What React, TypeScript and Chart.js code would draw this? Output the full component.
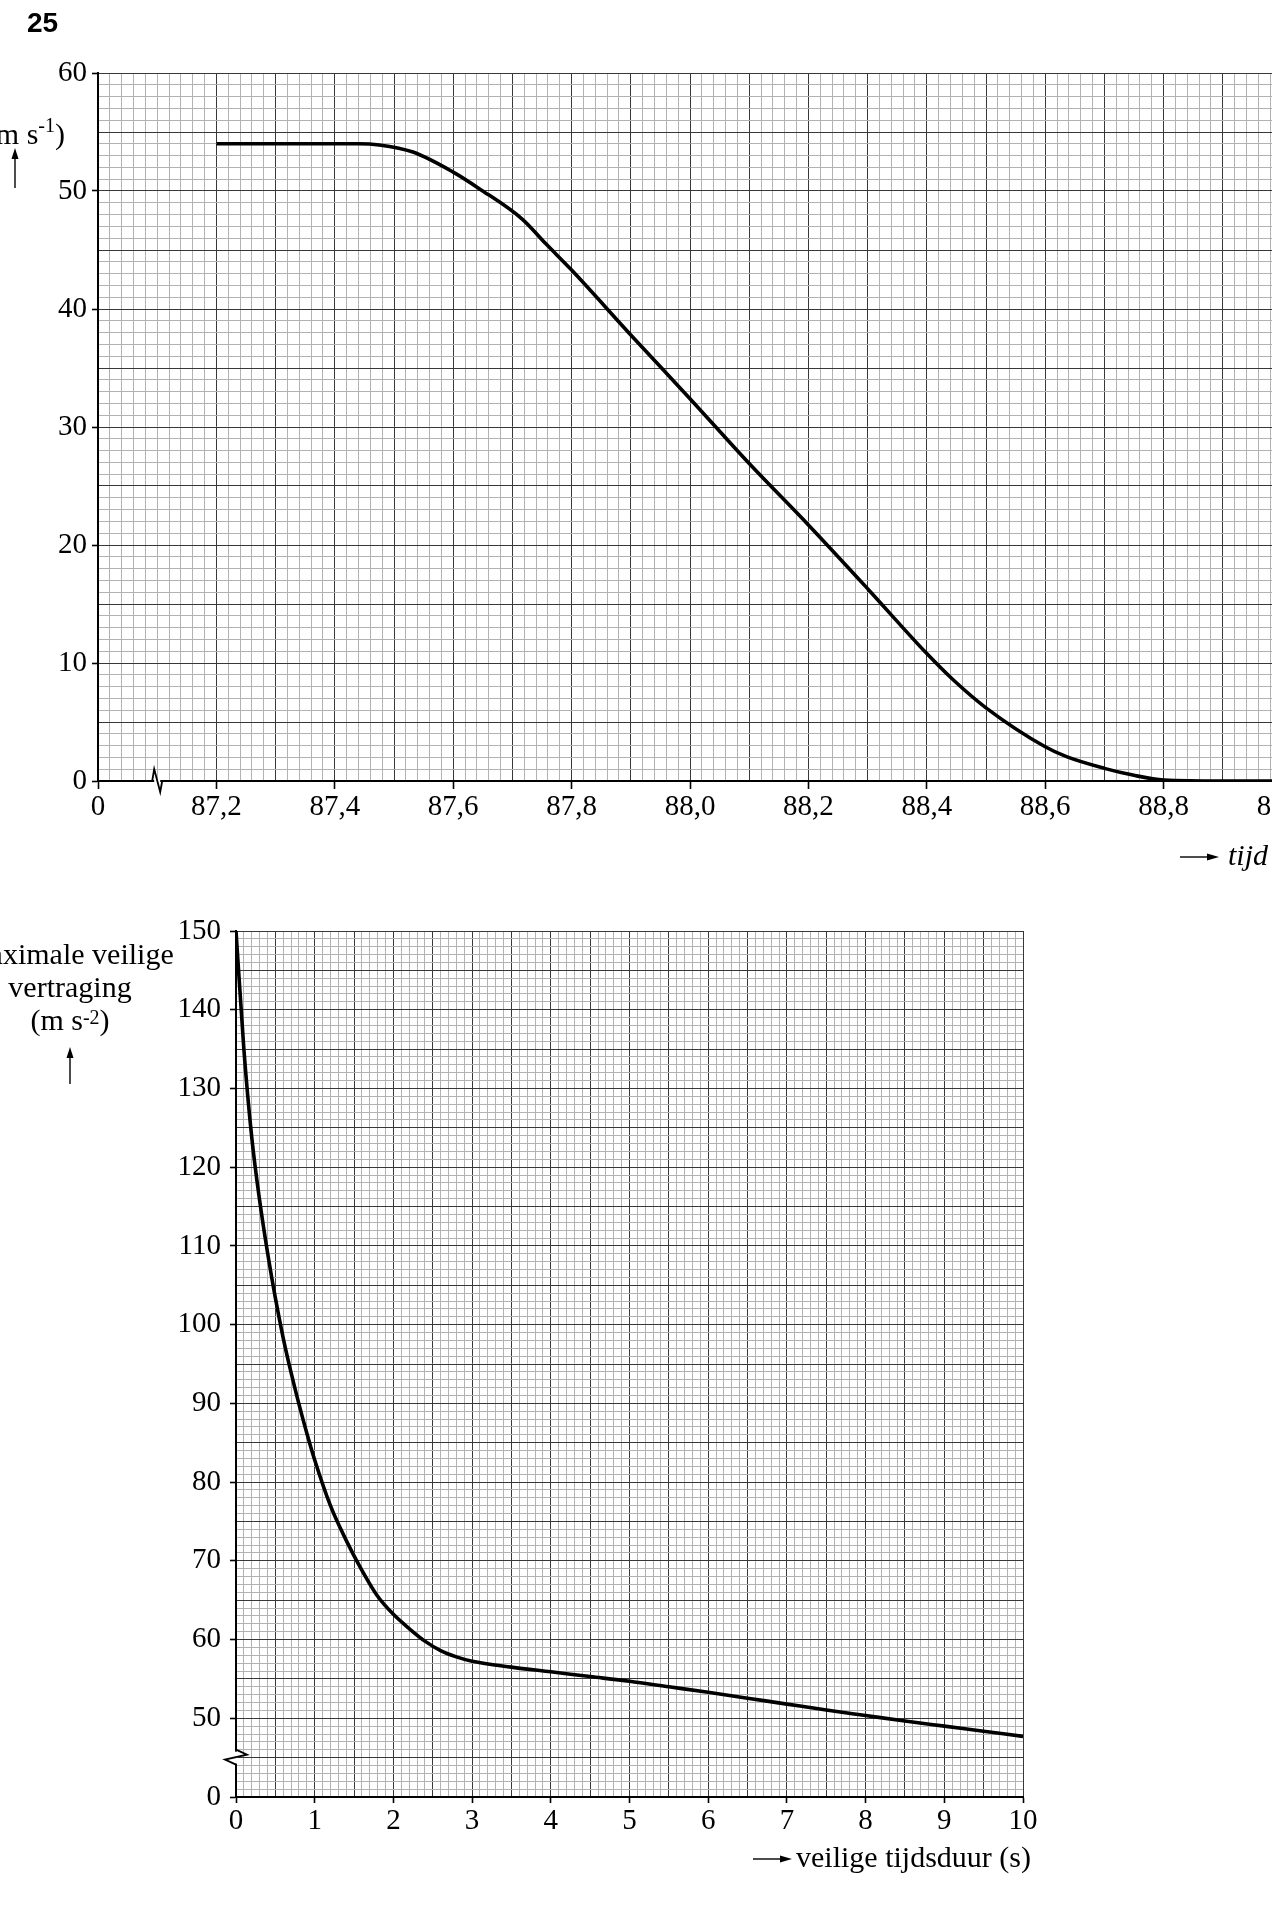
import React, { useEffect, useRef } from 'react';
import { Chart, registerables } from 'chart.js';

Chart.register(...registerables);

// ---------------- Top chart: speed (m s-1) against time ----------------
const speedTimes = [
  87.2, 87.3, 87.4, 87.44, 87.475, 87.532, 87.6, 87.644, 87.717, 87.757, 87.8,
  87.9, 88.0, 88.1, 88.2, 88.3, 88.4, 88.444, 88.5,
  88.6, 88.636, 88.7, 88.748, 88.8, 88.9, 89.0,
];
const speedValues = [
  54, 54, 54, 54, 53.9, 53.3, 51.6, 50.2, 47.6, 45.5, 43.3,
  37.8, 32.4, 26.9, 21.7, 16.3, 10.8, 8.6, 6.2,
  2.9, 2.06, 1.07, 0.5, 0.08, 0, 0,
];
const speedXTickValues = [87.0, 87.2, 87.4, 87.6, 87.8, 88.0, 88.2, 88.4, 88.6, 88.8, 89.0];
const speedXTickLabels = ['0', '87,2', '87,4', '87,6', '87,8', '88,0', '88,2', '88,4', '88,6', '88,8', '89,0'];
const speedYTickValues = [0, 10, 20, 30, 40, 50, 60];
const speedYTickLabels = ['0', '10', '20', '30', '40', '50', '60'];

// ---------------- Bottom chart: max safe deceleration against duration ----------------
const durationValues = [
  0, 0.1, 0.2, 0.3, 0.4, 0.5, 0.6, 0.7, 0.8, 0.9, 1.0, 1.2, 1.4, 1.6, 1.8, 2.0,
  2.2, 2.4, 2.6, 2.8, 3.0, 3.5, 4.0, 4.5, 5.0, 5.5, 6.0, 6.5, 7.0, 7.5, 8.0,
  8.5, 9.0, 9.5, 10.0,
];
const decelValues = [
  150, 135, 123.8, 115.8, 109.2, 103.4, 98.3, 93.9, 89.9, 86.2, 82.8, 77.0, 72.6, 68.8, 65.5, 63.2,
  61.4, 59.8, 58.6, 57.8, 57.25, 56.5, 55.9, 55.3, 54.7, 54.0, 53.3, 52.55, 51.8, 51.05, 50.35,
  49.65, 49.0, 48.35, 47.7,
];
const durationTickValues = [0, 1, 2, 3, 4, 5, 6, 7, 8, 9, 10];
const durationTickLabels = ['0', '1', '2', '3', '4', '5', '6', '7', '8', '9', '10'];
const decelTickValues = [40, 50, 60, 70, 80, 90, 100, 110, 120, 130, 140, 150];
const decelTickLabels = ['0', '50', '60', '70', '80', '90', '100', '110', '120', '130', '140', '150'];

// ---------------- styling ----------------
const SERIF = "'Liberation Serif', 'Times New Roman', serif";
const MINOR = '#b2b2b2';
const MAJOR = '#383838';
const TICK_FONT = { family: SERIF, size: 29 };

function minorTicks(min: number, max: number, step: number) {
  const n = Math.round((max - min) / step);
  const out: { value: number }[] = [];
  for (let i = 0; i <= n; i++) out.push({ value: +(min + i * step).toFixed(4) });
  return out;
}
function labelFor(values: number[], labels: string[], v: number) {
  const i = values.findIndex((t) => Math.abs(t - v) < 1e-6);
  return i >= 0 ? labels[i] : '';
}
function isMultiple(v: number, base: number, step: number) {
  const k = (v - base) / step;
  return Math.abs(k - Math.round(k)) < 1e-6;
}

function makeScale(opts: {
  min: number; max: number; minorStep: number; majorStep: number; base: number;
  tickValues: number[]; tickLabels: string[]; size: number; isX: boolean;
  tickLength: number; padding: number; greyMajor?: number[];
}) {
  const { min, max, minorStep, majorStep, base, tickValues, tickLabels, size, isX, tickLength, padding, greyMajor = [] } = opts;
  return {
    type: 'linear',
    min,
    max,
    afterBuildTicks: (s: any) => { s.ticks = minorTicks(min, max, minorStep); },
    afterFit: (s: any) => { if (isX) s.height = size; else s.width = size; },
    ticks: {
      autoSkip: false,
      maxRotation: 0,
      minRotation: 0,
      padding,
      color: '#000',
      font: TICK_FONT,
      callback: (v: number) => labelFor(tickValues, tickLabels, v),
    },
    grid: {
      lineWidth: 1,
      tickLength,
      tickWidth: 1.6,
      color: (ctx: any) => {
        const v = ctx.tick ? ctx.tick.value : null;
        if (v == null) return MINOR;
        if (greyMajor.some((g) => Math.abs(g - v) < 1e-6)) return MINOR;
        return isMultiple(v, base, majorStep) ? MAJOR : MINOR;
      },
      tickColor: (ctx: any) => {
        const v = ctx.tick ? ctx.tick.value : null;
        if (v == null) return 'rgba(0,0,0,0)';
        return labelFor(tickValues, tickLabels, v) !== '' ? '#000' : 'rgba(0,0,0,0)';
      },
    },
    border: { color: '#000', width: 2 },
  };
}

const topBreakPlugin = {
  id: 'topBreak',
  afterDraw(chart: any) {
    const ctx = chart.ctx;
    const bx = chart.scales.x.getPixelForValue(87.1);
    const y0 = chart.scales.y.getPixelForValue(0);
    ctx.save();
    ctx.strokeStyle = '#fff';
    ctx.lineWidth = 4;
    ctx.beginPath();
    ctx.moveTo(bx - 3, y0);
    ctx.lineTo(bx + 3, y0);
    ctx.stroke();
    ctx.strokeStyle = '#000';
    ctx.lineWidth = 1.8;
    ctx.lineJoin = 'miter';
    ctx.beginPath();
    ctx.moveTo(bx - 5, y0);
    ctx.lineTo(bx - 3, y0 - 12);
    ctx.lineTo(bx + 3, y0 + 11);
    ctx.lineTo(bx + 5, y0);
    ctx.stroke();
    ctx.restore();
  },
};

const bottomBreakPlugin = {
  id: 'bottomBreak',
  afterDraw(chart: any) {
    const ctx = chart.ctx;
    const ax = chart.chartArea.left;
    const by = chart.scales.y.getPixelForValue(45);
    ctx.save();
    ctx.strokeStyle = '#fff';
    ctx.lineWidth = 4;
    ctx.beginPath();
    ctx.moveTo(ax, by - 6);
    ctx.lineTo(ax, by + 6);
    ctx.stroke();
    ctx.strokeStyle = '#000';
    ctx.lineWidth = 1.8;
    ctx.beginPath();
    ctx.moveTo(ax, by - 8);
    ctx.lineTo(ax + 11, by - 3);
    ctx.lineTo(ax - 11, by + 2);
    ctx.lineTo(ax, by + 7);
    ctx.stroke();
    ctx.restore();
  },
};

function baseOptions(padding: any) {
  return {
    animation: false,
    responsive: false,
    devicePixelRatio: 1,
    events: [],
    layout: { padding },
    plugins: { legend: { display: false }, tooltip: { enabled: false } },
  };
}

function Txt(props: { x: number; baseline: number; size: number; align?: 'left' | 'center' | 'right'; italic?: boolean; bold?: boolean; family?: string; children: any }) {
  const { x, baseline, size, align = 'left', italic, bold, family = SERIF, children } = props;
  const asc = family.includes('Sans') ? 0.8465 : 0.8375;
  const w = 800;
  const left = align === 'left' ? x : align === 'center' ? x - w / 2 : x - w;
  return (
    <div
      style={{
        position: 'absolute',
        left,
        width: w,
        top: baseline - asc * size,
        fontFamily: family,
        fontSize: size,
        lineHeight: 1,
        fontStyle: italic ? 'italic' : 'normal',
        fontWeight: bold ? 700 : 400,
        textAlign: align,
        whiteSpace: 'nowrap',
        color: '#000',
      }}
    >
      {children}
    </div>
  );
}

function Sup(props: { raise: number; children: any }) {
  return (
    <span style={{ fontSize: 20, position: 'relative', top: -props.raise }}>{props.children}</span>
  );
}

export default function App() {
  const topRef = useRef<HTMLCanvasElement>(null);
  const bottomRef = useRef<HTMLCanvasElement>(null);

  useEffect(() => {
    const top = new Chart(topRef.current as HTMLCanvasElement, {
      type: 'line',
      data: {
        datasets: [
          {
            data: speedTimes.map((t, i) => ({ x: t, y: speedValues[i] })),
            borderColor: '#000',
            borderWidth: 3.6,
            pointRadius: 0,
            fill: false,
            cubicInterpolationMode: 'monotone',
          },
        ],
      },
      options: {
        ...baseOptions({ left: 0, top: 73, right: 78, bottom: 0 }),
        scales: {
          x: makeScale({
            min: 87.0, max: 89.0, minorStep: 0.02, majorStep: 0.1, base: 87.0,
            tickValues: speedXTickValues, tickLabels: speedXTickLabels,
            size: 99, isX: true, tickLength: 8, padding: 1, greyMajor: [87.1],
          }),
          y: makeScale({
            min: 0, max: 60, minorStep: 1, majorStep: 5, base: 0,
            tickValues: speedYTickValues, tickLabels: speedYTickLabels,
            size: 98, isX: false, tickLength: 6, padding: 5,
          }),
        },
      } as any,
      plugins: [topBreakPlugin],
    } as any);

    const bottom = new Chart(bottomRef.current as HTMLCanvasElement, {
      type: 'line',
      data: {
        datasets: [
          {
            data: durationValues.map((t, i) => ({ x: t, y: decelValues[i] })),
            borderColor: '#000',
            borderWidth: 3.6,
            pointRadius: 0,
            fill: false,
            cubicInterpolationMode: 'monotone',
          },
        ],
      },
      options: {
        ...baseOptions({ left: 0, top: 51, right: 77, bottom: 0 }),
        scales: {
          x: makeScale({
            min: 0, max: 10, minorStep: 0.1, majorStep: 0.5, base: 0,
            tickValues: durationTickValues, tickLabels: durationTickLabels,
            size: 113, isX: true, tickLength: 6, padding: 1,
          }),
          y: makeScale({
            min: 40, max: 150, minorStep: 1, majorStep: 5, base: 40,
            tickValues: decelTickValues, tickLabels: decelTickLabels,
            size: 236, isX: false, tickLength: 6, padding: 9,
          }),
        },
      } as any,
      plugins: [bottomBreakPlugin],
    } as any);

    return () => {
      top.destroy();
      bottom.destroy();
    };
  }, []);

  return (
    <div
      style={{
        position: 'fixed',
        left: 0,
        top: 0,
        width: 1272,
        height: 1910,
        overflow: 'hidden',
        background: '#fff',
      }}
    >
      <canvas ref={topRef} width={1360} height={880} style={{ position: 'absolute', left: 0, top: 0 }} />
      <canvas ref={bottomRef} width={1100} height={1030} style={{ position: 'absolute', left: 0, top: 880 }} />

      <Txt x={27} baseline={33} size={28} bold family="'Liberation Sans', Arial, sans-serif">25</Txt>

      <Txt x={65} baseline={144} size={30} align="right">
        (m s<Sup raise={12}>-1</Sup>)
      </Txt>

      <Txt x={1228} baseline={865} size={30} italic>tijd</Txt>

      <Txt x={70} baseline={964} size={30} align="center">maximale veilige</Txt>
      <Txt x={70} baseline={997} size={30} align="center">vertraging</Txt>
      <Txt x={70} baseline={1030} size={30} align="center">
        (m s<Sup raise={6}>-2</Sup>)
      </Txt>

      <Txt x={796} baseline={1867} size={30}>veilige tijdsduur (s)</Txt>

      <svg
        width={1272}
        height={1910}
        style={{ position: 'absolute', left: 0, top: 0, pointerEvents: 'none' }}
      >
        {/* up arrow, top chart */}
        <line x1={15} y1={188} x2={15} y2={156} stroke="#000" strokeWidth={1.4} />
        <polygon points="15,148 11.5,159 18.5,159" fill="#000" />
        {/* up arrow, bottom chart */}
        <line x1={70} y1={1084} x2={70} y2={1055} stroke="#000" strokeWidth={1.4} />
        <polygon points="70,1047 66.5,1058 73.5,1058" fill="#000" />
        {/* right arrow, tijd */}
        <line x1={1180} y1={857} x2={1210} y2={857} stroke="#000" strokeWidth={1.4} />
        <polygon points="1219,857 1207,853.5 1207,860.5" fill="#000" />
        {/* right arrow, bottom x title */}
        <line x1={753} y1={1859} x2={783} y2={1859} stroke="#000" strokeWidth={1.4} />
        <polygon points="792,1859 780,1855.5 780,1862.5" fill="#000" />
      </svg>
    </div>
  );
}
